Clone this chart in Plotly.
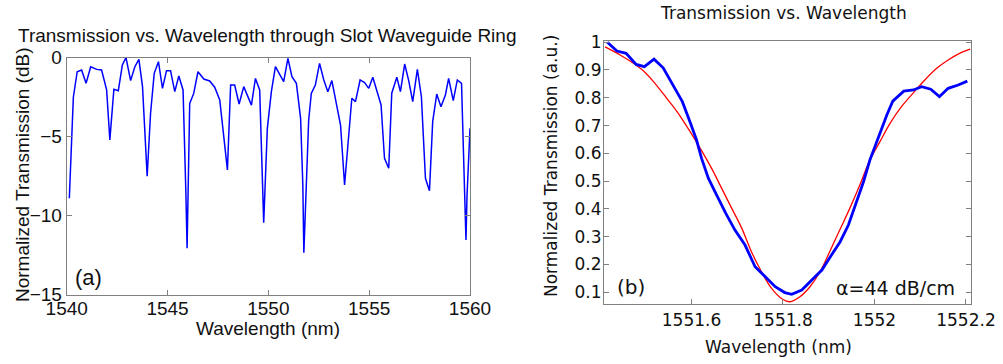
import plotly.graph_objects as go

# Panel (a): measured ring transmission spectrum
wl_a = [1540.13, 1540.33, 1540.52, 1540.74, 1540.96, 1541.19, 1541.49, 1541.73, 1541.98, 1542.14,
        1542.34, 1542.56, 1542.76, 1542.94, 1543.17, 1543.38, 1543.58, 1543.76, 1543.99, 1544.16,
        1544.34, 1544.55, 1544.75, 1544.95, 1545.15, 1545.36, 1545.56, 1545.77, 1545.91, 1545.97,
        1546.10, 1546.30, 1546.51, 1546.80, 1547.09, 1547.34, 1547.59, 1547.97, 1548.13, 1548.33,
        1548.55, 1548.78, 1549.16, 1549.36, 1549.57, 1549.77, 1549.95, 1550.15, 1550.35, 1550.56,
        1550.76, 1550.97, 1551.17, 1551.39, 1551.60, 1551.71, 1551.76, 1551.88, 1552.00, 1552.13,
        1552.33, 1552.54, 1552.75, 1552.95, 1553.15, 1553.37, 1553.58, 1553.78, 1553.94, 1554.14,
        1554.32, 1554.55, 1554.77, 1554.98, 1555.18, 1555.40, 1555.59, 1555.76, 1555.97, 1556.12,
        1556.37, 1556.55, 1556.76, 1556.96, 1557.16, 1557.39, 1557.59, 1557.79, 1557.99, 1558.15,
        1558.35, 1558.56, 1558.78, 1558.94, 1559.17, 1559.37, 1559.58, 1559.68, 1559.77, 1559.80,
        1559.85, 1559.93, 1560.00]
db_a = [-8.9, -2.5, -0.89, -0.78, -1.62, -0.57, -0.74, -0.78, -2.04, -5.2,
        -2.0, -2.09, -0.46, 0.0, -1.45, -0.57, -0.1, -1.83, -7.5, -3.5,
        -0.99, -0.25, -1.94, -0.82, -0.82, -2.15, -1.16, -2.04, -8.56, -12.06,
        -2.89, -2.26, -0.89, -1.35, -1.47, -1.87, -2.68, -7.1, -1.73, -1.73,
        -2.93, -1.83, -3.0, -1.31, -2.04, -10.44, -4.47, -2.15, -0.57, -1.03,
        -1.52, -0.04, -1.2, -1.62, -3.84, -8.06, -12.34, -8.16, -3.94, -2.26,
        -1.73, -0.36, -1.41, -2.15, -1.45, -2.89, -4.26, -8.06, -5.42, -2.57,
        -2.78, -1.41, -1.58, -1.94, -1.24, -2.15, -2.99, -6.37, -7.0, -2.25,
        -1.24, -2.15, -0.4, -1.45, -2.78, -0.74, -2.47, -7.63, -8.42, -4.05,
        -2.3, -3.1, -2.36, -1.31, -2.72, -1.41, -1.62, -6.16, -9.85, -11.54,
        -8.8, -6.9, -4.47]

# Panel (b): single resonance, measured (blue) and fitted (red)
wl_meas = [1551.416, 1551.437, 1551.457, 1551.479, 1551.497, 1551.518, 1551.538, 1551.559, 1551.580,
           1551.597, 1551.611, 1551.622, 1551.637, 1551.655, 1551.675, 1551.695, 1551.717, 1551.739,
           1551.761, 1551.783, 1551.804, 1551.819, 1551.841, 1551.863, 1551.885, 1551.906, 1551.925,
           1551.943, 1551.957, 1551.976, 1551.990, 1552.005, 1552.016, 1552.027, 1552.040, 1552.064,
           1552.085, 1552.103, 1552.123, 1552.142, 1552.161, 1552.183, 1552.203]
t_meas = [1.0, 0.968, 0.96, 0.92, 0.912, 0.939, 0.908, 0.848, 0.786,
          0.712, 0.648, 0.582, 0.51, 0.45, 0.384, 0.324, 0.27, 0.192,
          0.156, 0.12, 0.099, 0.093, 0.108, 0.144, 0.18, 0.234, 0.282,
          0.342, 0.408, 0.498, 0.576, 0.642, 0.684, 0.738, 0.788, 0.824,
          0.828, 0.84, 0.831, 0.804, 0.834, 0.846, 0.86]

wl_fit = [1551.411, 1551.444, 1551.473, 1551.498, 1551.520, 1551.546, 1551.571, 1551.597, 1551.619,
          1551.644, 1551.666, 1551.688, 1551.710, 1551.731, 1551.753, 1551.775, 1551.799, 1551.815,
          1551.837, 1551.859, 1551.881, 1551.902, 1551.924, 1551.946, 1551.968, 1551.990, 1552.012,
          1552.034, 1552.059, 1552.084, 1552.110, 1552.136, 1552.161, 1552.186, 1552.209]
t_fit = [0.983, 0.954, 0.924, 0.892, 0.852, 0.798, 0.744, 0.678, 0.618,
         0.546, 0.474, 0.402, 0.33, 0.246, 0.174, 0.114, 0.075, 0.066,
         0.084, 0.12, 0.174, 0.246, 0.324, 0.402, 0.486, 0.576, 0.642,
         0.708, 0.768, 0.816, 0.864, 0.906, 0.936, 0.96, 0.975]

W, H = 1003, 364
def fx(p):
    return p / W
def fy(p):
    return 1 - p / H

GRAY = "#808080"
ARIAL = "Liberation Sans, Arial, sans-serif"
SANS = "DejaVu Sans, Verdana, sans-serif"
INK = "#111111"

fig = go.Figure()
fig.add_trace(go.Scatter(x=wl_a, y=db_a, mode="lines", xaxis="x", yaxis="y",
                         line=dict(color="#0000ff", width=1.5), showlegend=False))
fig.add_trace(go.Scatter(x=wl_fit, y=t_fit, mode="lines", xaxis="x2", yaxis="y2",
                         line=dict(color="#ff0000", width=1.3, shape="spline"), showlegend=False))
fig.add_trace(go.Scatter(x=wl_meas, y=t_meas, mode="lines", xaxis="x2", yaxis="y2",
                         line=dict(color="#0000ff", width=2.8), showlegend=False))

common = dict(showgrid=False, zeroline=False, showline=True, linecolor=GRAY, linewidth=1,
              ticks="inside", ticklen=5, tickcolor=GRAY, tickwidth=1, automargin=False)

fig.update_layout(
    template="none",
    width=W, height=H, margin=dict(l=0, r=0, t=0, b=0, pad=0), autosize=False,
    paper_bgcolor="white", plot_bgcolor="white",
    xaxis=dict(domain=[fx(66.7), fx(470)], range=[1540, 1560], anchor="y",
               tickvals=[1540, 1545, 1550, 1555, 1560], mirror="ticks", ticklabelstandoff=-4,
               tickfont=dict(family=ARIAL, size=19, color=INK), **common),
    yaxis=dict(domain=[fy(294.7), fy(57.7)], range=[-15, 0], anchor="x",
               tickvals=[-15, -10, -5, 0], mirror="ticks",
               tickfont=dict(family=ARIAL, size=19, color=INK), **common),
    xaxis2=dict(domain=[fx(604), fx(971)], range=[1551.4087, 1552.211], anchor="y2",
                tickvals=[1551.6, 1551.8, 1552.0, 1552.2],
                ticktext=["1551.6", "1551.8", "1552", "1552.2"], mirror=True,
                tickfont=dict(family=SANS, size=17, color=INK), **common),
    xaxis3=dict(overlaying="x2", side="top", anchor="y2", range=[1551.4087, 1552.211],
                tickvals=[1551.5, 1551.6, 1551.7, 1551.8, 1551.9, 1552.0, 1552.1, 1552.2],
                showticklabels=False, showgrid=False, zeroline=False, showline=False,
                ticks="inside", ticklen=5, tickcolor=GRAY, automargin=False),
    yaxis2=dict(domain=[fy(304.3), fy(40.7)], range=[0.0568, 1.0054], anchor="x2",
                tickvals=[0.1, 0.2, 0.3, 0.4, 0.5, 0.6, 0.7, 0.8, 0.9, 1.0],
                ticktext=["0.1", "0.2", "0.3", "0.4", "0.5", "0.6", "0.7", "0.8", "0.9", "1"],
                mirror="ticks", ticklabelstandoff=-2,
                tickfont=dict(family=SANS, size=17, color=INK), **common),
)

def label(text, x, y, family, size, angle=0):
    fig.add_annotation(text=text, x=fx(x), y=fy(y), xref="paper", yref="paper",
                       xanchor="center", yanchor="middle", showarrow=False, textangle=angle,
                       font=dict(family=family, size=size, color=INK))

label("Transmission vs. Wavelength through Slot Waveguide Ring", 267, 36, ARIAL, 19)
label("Wavelength (nm)", 267.5, 328, ARIAL, 19)
label("Normalized Transmission (dB)", 22, 175, ARIAL, 19, -90)
label("(a)", 88, 277, ARIAL, 22)

label("Transmission vs. Wavelength", 783, 13, SANS, 17)
label("Wavelength (nm)", 778.5, 347, SANS, 17)
label("Normalized Transmission (a.u.)", 551, 166, SANS, 17, -90)
label("(b)", 631, 287, SANS, 20)
label("α=44 dB/cm", 895, 288, SANS, 19)

fig.write_html("out.html")
